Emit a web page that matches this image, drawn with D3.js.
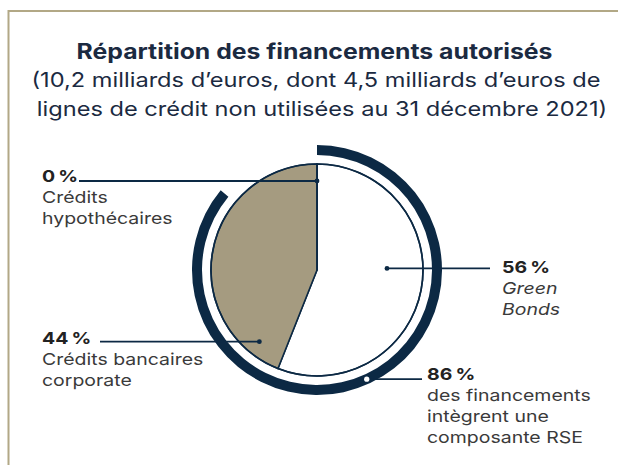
<!DOCTYPE html>
<html>
<head>
<meta charset="utf-8">
<script src="https://cdn.jsdelivr.net/npm/d3@7"></script>
<style>
  html, body { margin: 0; padding: 0; background: #fff; }
  svg { display: block; }
  text { font-family: Inter, "Open Sans", sans-serif; }
</style>
</head>
<body>
<svg id="chart" width="618" height="465"></svg>
<script>
// Breakdown of authorised financing (share of total, %)
const categories = ["Green Bonds", "Crédits bancaires corporate", "Crédits hypothécaires"];
const shares = [56, 44, 0];
// Share of financing with a CSR component (%)
const rseShare = 86;

const titleLines = ["Répartition des financements autorisés"];
const subtitleLines = [
  "(10,2 milliards d’euros, dont 4,5 milliards d’euros de",
  "lignes de crédit non utilisées au 31 décembre 2021)"
];
const labelValues = ["56\u202F%", "44\u202F%", "0\u202F%", "86\u202F%"];
const labelTexts = [
  ["Green", "Bonds"],
  ["Crédits bancaires", "corporate"],
  ["Crédits", "hypothécaires"],
  ["des financements", "intègrent une", "composante RSE"]
];

const navy = "#0c2944";
const tan = "#a59b80";
const frame = "#b2a886";
const textDark = "#3a3a3a";
// the wide geometric face is approximated by widening the glyphs
const widen = 1.18;

const svg = d3.select("#chart");

function widenText(sel) {
  sel.each(function () {
    const w = this.getComputedTextLength();
    d3.select(this).attr("textLength", w * widen).attr("lengthAdjust", "spacingAndGlyphs");
  });
  return sel;
}

// frame: top rule and left rule
svg.append("line").attr("x1", 8.5).attr("x2", 618).attr("y1", 11).attr("y2", 11)
  .attr("stroke", frame).attr("stroke-width", 2);
svg.append("line").attr("x1", 8.5).attr("x2", 8.5).attr("y1", 10).attr("y2", 465)
  .attr("stroke", frame).attr("stroke-width", 2);

// title block
widenText(svg.append("text").attr("x", 314.5).attr("y", 59).attr("text-anchor", "middle")
  .attr("font-size", 21).attr("font-weight", 700).attr("fill", "#1b2a41")
  .text(titleLines[0]));
subtitleLines.forEach((t, i) => {
  widenText(svg.append("text").attr("x", i ? 322 : 316).attr("y", 87 + i * 29)
    .attr("text-anchor", "middle")
    .attr("font-size", 20).attr("font-weight", 400).attr("fill", "#1b2a41")
    .text(t));
});

// pie
const cx = 317, cy = 270, r = 106;
const g = svg.append("g").attr("transform", `translate(${cx},${cy})`);

const pie = d3.pie().sort(null).value(d => d)(shares);
const arc = d3.arc().innerRadius(0).outerRadius(r);
const fills = ["#ffffff", tan, tan];

g.selectAll("path.slice").data(pie).join("path")
  .attr("class", "slice")
  .attr("d", arc)
  .attr("fill", (d, i) => fills[i])
  .attr("stroke", navy).attr("stroke-width", 1.6).attr("stroke-linejoin", "round");

// outline of the whole disc
g.append("circle").attr("r", r).attr("fill", "none")
  .attr("stroke", navy).attr("stroke-width", 1.6);

// CSR ring
const ringArc = d3.arc().innerRadius(115).outerRadius(125)
  .startAngle(0).endAngle(2 * Math.PI * rseShare / 100);
g.append("path").attr("d", ringArc()).attr("fill", navy);

// polar helper (angle clockwise from 12 o'clock)
const polar = (a, rad) => [Math.sin(a) * rad, -Math.cos(a) * rad];
const midOf = (i, t) => pie[i].startAngle + (pie[i].endAngle - pie[i].startAngle) * t;

// annotations: anchor point, leader end, text block
const annotations = [
  { a: midOf(0, 0.44), rad: 70, lineTo: 490, tx: 502, ty: 273, italic: true },
  { a: pie[1].startAngle + 0.3, rad: 92, lineTo: 100, tx: 42, ty: 344 },
  { a: 0, rad: 89, lineTo: 79, tx: 42, ty: 182 },
  { a: 2 * Math.PI * 0.432, rad: 120, lineTo: 422, tx: 427, ty: 380, hollow: true }
];

const lh = 21;
annotations.forEach((an, i) => {
  const [px, py] = polar(an.a, an.rad);
  const x0 = cx + px, y0 = cy + py;
  svg.append("line").attr("x1", x0).attr("y1", y0).attr("x2", an.lineTo).attr("y2", y0)
    .attr("stroke", navy).attr("stroke-width", 1.8);
  svg.append("circle").attr("cx", x0).attr("cy", y0).attr("r", an.hollow ? 2.6 : 2.4)
    .attr("fill", an.hollow ? "#fff" : navy);

  widenText(svg.append("text").attr("x", an.tx).attr("y", an.ty)
    .attr("font-size", 16.5).attr("font-weight", 700).attr("fill", "#222")
    .text(labelValues[i]));
  labelTexts[i].forEach((line, k) => {
    widenText(svg.append("text").attr("x", an.tx).attr("y", an.ty + (k + 1) * lh)
      .attr("font-size", 16.5).attr("fill", textDark)
      .attr("font-style", an.italic ? "italic" : null)
      .text(line));
  });
});
</script>
</body>
</html>
